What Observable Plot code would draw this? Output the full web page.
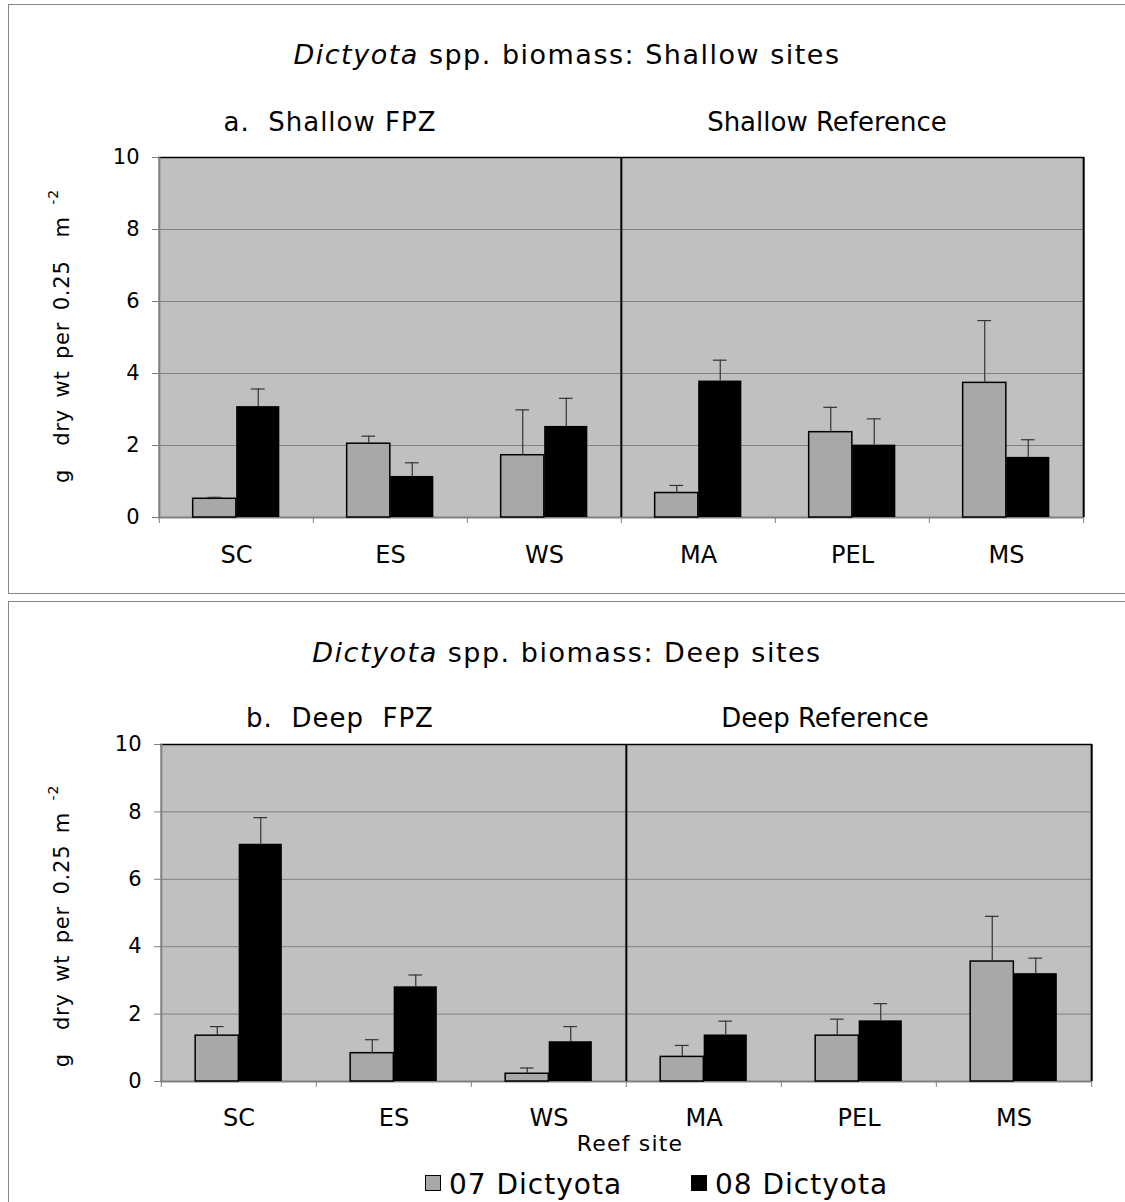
<!DOCTYPE html>
<html><head><meta charset="utf-8">
<script src="https://cdn.jsdelivr.net/npm/d3@7"></script>
<script src="https://cdn.jsdelivr.net/npm/@observablehq/plot@0.6"></script>
<style>
body{margin:0;background:#fff;font-family:"DejaVu Sans",sans-serif;}
#root{position:relative;width:1125px;height:1202px;overflow:hidden;}
.box{position:absolute;left:8px;width:1130px;border:1px solid #888;box-sizing:border-box;}
.t{position:absolute;white-space:nowrap;transform:translate(-50%,-50%);color:#000;}
.title{font-size:27px;letter-spacing:1.5px;}
.sub{font-size:26px;}
.yl{position:absolute;white-space:nowrap;transform:translate(-50%,-50%) rotate(-90deg);font-size:21px;letter-spacing:0.8px;word-spacing:4px;}
.yl sup{font-size:14px;vertical-align:11px;}
.plot{position:absolute;left:0;}
.sq{position:absolute;width:16px;height:16px;border:1.5px solid #000;box-sizing:border-box;}
.lg{position:absolute;white-space:nowrap;font-size:28px;letter-spacing:1px;transform:translateY(-50%);}
</style></head>
<body><div id="root">
<div class="box" style="top:4px;height:590px;"></div>
<div class="box" style="top:601px;height:620px;"></div>
<div class="t title" style="left:567px;top:54px;"><i>Dictyota</i> spp. biomass: Shallow sites</div>
<div class="t sub" style="left:330px;top:122px;letter-spacing:1px;">a.&nbsp; Shallow FPZ</div>
<div class="t sub" style="left:827px;top:122px;">Shallow Reference</div>
<div class="yl" style="left:59px;top:336px;">g&nbsp; dry wt per 0.25&nbsp; m <sup>-2</sup></div>
<div id="p1" class="plot" style="top:140px;"></div>
<div class="t title" style="left:567px;top:652px;"><i>Dictyota</i> spp. biomass: Deep sites</div>
<div class="t sub" style="left:340px;top:718px;letter-spacing:1px;">b.&nbsp; Deep&nbsp; FPZ</div>
<div class="t sub" style="left:825px;top:718px;">Deep Reference</div>
<div class="yl" style="left:59px;top:926px;">g&nbsp; dry wt per 0.25 m <sup>-2</sup></div>
<div id="p2" class="plot" style="top:725px;"></div>
<div class="t" style="left:630px;top:1143px;font-size:22px;letter-spacing:1.2px;">Reef site</div>
<div class="sq" style="left:425px;top:1175px;background:#a8a8a8"></div>
<div class="lg" style="left:449px;top:1184px;">07 Dictyota</div>
<div class="sq" style="left:691px;top:1175px;background:#000"></div>
<div class="lg" style="left:715px;top:1184px;">08 Dictyota</div>
</div>
<script>
const sites = ["SC", "ES", "WS", "MA", "PEL", "MS"];
const shallow07 = [0.52, 2.05, 1.73, 0.68, 2.37, 3.74];
const shallow07Err = [0.04, 0.21, 1.26, 0.21, 0.69, 1.73];
const shallow08 = [3.08, 1.14, 2.53, 3.79, 2.01, 1.67];
const shallow08Err = [0.49, 0.38, 0.78, 0.58, 0.73, 0.49];
const deep07 = [1.36, 0.84, 0.23, 0.73, 1.36, 3.56];
const deep07Err = [0.27, 0.40, 0.17, 0.34, 0.49, 1.34];
const deep08 = [7.04, 2.81, 1.18, 1.38, 1.80, 3.20];
const deep08Err = [0.79, 0.35, 0.45, 0.41, 0.51, 0.46];
const yTicks = [0, 2, 4, 6, 8, 10];

function panel(v07, e07, v08, e08, cfg) {
  const d07 = sites.map((s, i) => ({site: s, value: v07[i], err: e07[i]}));
  const d08 = sites.map((s, i) => ({site: s, value: v08[i], err: e08[i]}));
  const W = 1125;
  const bw = (W - cfg.ml - cfg.mr) / sites.length;
  const plotH = cfg.h - cfg.mt - cfg.mb;
  const barW = 43.5, capW = 7;
  const errStroke = "#333";
  return Plot.plot({
    width: W, height: cfg.h,
    marginLeft: cfg.ml, marginRight: cfg.mr, marginTop: cfg.mt, marginBottom: cfg.mb,
    x: {domain: sites, padding: 0},
    y: {domain: [0, 10]},
    style: {fontFamily: "DejaVu Sans, sans-serif", background: "transparent", overflow: "visible"},
    marks: [
      Plot.frame({fill: "#c0c0c0", stroke: null}),
      Plot.gridY(yTicks.filter(t => t > 0 && t < 10), {stroke: "#808080", strokeOpacity: 1}),
      Plot.ruleY([10], {stroke: "#000", strokeWidth: 1.5}),
      Plot.ruleY([0], {stroke: "#808080", strokeWidth: 2}),
      Plot.axisY({ticks: yTicks, tickSize: 6, tickPadding: 13, fontSize: 21, stroke: "#808080", fill: "#000", label: null}),
      Plot.axisX({tickSize: 0, tickPadding: cfg.xpad, fontSize: 24, fill: "#000", label: null}),
      Plot.ruleX(sites, {dx: -bw / 2, insetTop: plotH, insetBottom: -6, stroke: "#808080"}),
      Plot.ruleX([sites[sites.length - 1]], {dx: bw / 2, insetTop: plotH, insetBottom: -6, stroke: "#808080"}),
      Plot.ruleX([sites[0]], {dx: -bw / 2, stroke: "#808080", strokeWidth: 2}),
      Plot.ruleX([sites[3]], {dx: -bw / 2, stroke: "#000", strokeWidth: 2}),
      Plot.ruleX([sites[sites.length - 1]], {dx: bw / 2, stroke: "#000", strokeWidth: 2}),
      Plot.barY(d07, {x: "site", y: "value", fill: "#a8a8a8", stroke: "#000", strokeWidth: 1.5, insetLeft: bw / 2 - barW, insetRight: bw / 2}),
      Plot.barY(d08, {x: "site", y: "value", fill: "#000", insetLeft: bw / 2, insetRight: bw / 2 - barW}),
      Plot.ruleX(d07, {x: "site", y1: "value", y2: d => d.value + d.err, dx: -barW / 2, stroke: errStroke, strokeWidth: 1.2}),
      Plot.ruleX(d08, {x: "site", y1: "value", y2: d => d.value + d.err, dx: barW / 2, stroke: errStroke, strokeWidth: 1.2}),
      Plot.tickY(d07, {x: "site", y: d => d.value + d.err, insetLeft: bw / 2 - barW / 2 - capW, insetRight: bw / 2 + barW / 2 - capW, stroke: errStroke, strokeWidth: 1.2}),
      Plot.tickY(d08, {x: "site", y: d => d.value + d.err, insetLeft: bw / 2 + barW / 2 - capW, insetRight: bw / 2 - barW / 2 - capW, stroke: errStroke, strokeWidth: 1.2})
    ]
  });
}

document.getElementById("p1").append(panel(shallow07, shallow07Err, shallow08, shallow08Err,
  {h: 432, ml: 158, mr: 41, mt: 17, mb: 55, xpad: 28}));
document.getElementById("p2").append(panel(deep07, deep07Err, deep08, deep08Err,
  {h: 406, ml: 160, mr: 33, mt: 19, mb: 50, xpad: 27}));
</script>
</body></html>
